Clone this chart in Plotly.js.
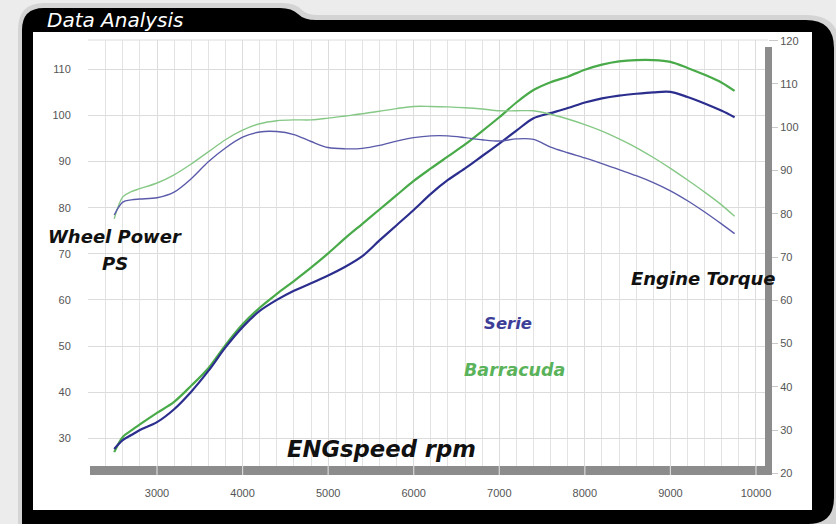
<!DOCTYPE html>
<html><head><meta charset="utf-8">
<script src="https://cdn.plot.ly/plotly-3.0.1.min.js"></script>
<style>html,body{margin:0;padding:0;background:#ececec}#chart{width:836px;height:524px}</style>
</head><body><div id="chart"></div>
<script>
// ---- data ----
const rpm = [2500,2600,2700,2800,3000,3200,3400,3600,3800,4000,4200,4400,4600,4800,5000,5200,5400,5600,5800,6000,6200,6400,6600,6800,7000,7200,7400,7600,7800,8000,8200,8400,8600,8800,9000,9200,9400,9600,9750];
const powerSerie = [27.7,29.6,30.7,31.8,33.5,36.3,40.1,44.6,49.7,54.1,57.6,60.0,62.0,63.6,65.3,67.2,69.5,72.9,76.2,79.5,83.0,86.0,88.5,91.2,93.9,96.7,99.4,100.5,101.6,102.8,103.7,104.3,104.7,105.0,105.1,104.0,102.6,101.0,99.6];
const powerBarracuda = [27.0,30.3,31.7,33.0,35.5,37.9,41.4,45.2,50.2,54.7,58.3,61.3,64.1,67.0,70.1,73.4,76.5,79.6,82.7,85.8,88.5,91.1,93.7,96.6,99.6,102.8,105.5,107.2,108.4,109.9,111.0,111.7,112.0,112.0,111.6,110.3,108.8,107.1,105.3];
const torqueSerie = [79.7,82.7,83.2,83.4,83.7,85.0,88.1,92.0,95.2,97.7,98.9,99.0,98.3,96.7,95.3,95.0,95.1,95.8,96.8,97.6,98.0,98.0,97.6,97.1,96.8,97.3,97.2,95.4,94.1,92.9,91.6,90.2,88.8,87.2,85.3,83.0,80.4,77.6,75.4];
const torqueBarracuda = [78.8,83.9,85.1,85.8,87.1,89.0,91.5,94.3,97.1,99.3,100.8,101.5,101.7,101.7,102.1,102.6,103.1,103.7,104.3,104.8,104.8,104.7,104.5,104.2,103.8,103.8,103.8,103.0,101.9,100.6,99.1,97.3,95.3,93.0,90.5,87.8,85.0,82.0,79.4];
const xTicks = [3000,4000,5000,6000,7000,8000,9000,10000];
const leftTicks = [30,40,50,60,70,80,90,100,110];
const rightTicks = [20,30,40,50,60,70,80,90,100,110,120];

// ---- layout helpers (pixel -> paper) ----
const L=88, R=768, T=40, B=474;
const fx = p => (p-L)/(R-L);
const fy = p => (B-p)/(B-T);
const P = (x,y) => fx(x)+','+fy(y);

const framePath = 'M'+P(22,530)+' L'+P(22,30)+' Q'+P(22,8)+' '+P(44,8)+' L'+P(280,8)+' Q'+P(292,8)+' '+P(298,14)+' Q'+P(304,20)+' '+P(316,20)+' L'+P(806,20)+' Q'+P(834,20)+' '+P(834,48)+' L'+P(834,498)+' Q'+P(834,524)+' '+P(808,524)+' L'+P(22,530)+' Z';
const shadowPath = 'M'+P(18,530)+' L'+P(18,30)+' Q'+P(18,3)+' '+P(44,3)+' L'+P(282,3)+' Q'+P(296,3)+' '+P(302,10)+' Q'+P(307,15)+' '+P(318,15)+' L'+P(806,15)+' Q'+P(840,15)+' '+P(840,48)+' L'+P(840,530)+' Z';

const shapes = [
  {type:'path', xref:'paper', yref:'paper', path:shadowPath, fillcolor:'rgba(0,0,0,0.10)', line:{width:0}, layer:'below'},
  {type:'path', xref:'paper', yref:'paper', path:framePath, fillcolor:'#000', line:{width:0}, layer:'below'},
  {type:'rect', xref:'paper', yref:'paper', x0:fx(33), x1:fx(812), y0:fy(510), y1:fy(32), fillcolor:'#fff', line:{width:0}, layer:'below'},
  {type:'line', xref:'paper', yref:'paper', x0:0, x1:1, y0:1, y1:1, line:{color:'#dcdcdc', width:1}, layer:'below'},
  // grey axis bars
  {type:'rect', xref:'paper', yref:'paper', x0:fx(90), x1:fx(771), y0:fy(475), y1:fy(466), fillcolor:'#8c8c8c', line:{width:0}, layer:'above'},
  {type:'rect', xref:'paper', yref:'paper', x0:fx(765), x1:fx(772), y0:fy(475), y1:fy(47), fillcolor:'#8c8c8c', line:{width:0}, layer:'above'}
];
xTicks.forEach(v => shapes.push({type:'line', xref:'x', yref:'paper', x0:v, x1:v, y0:fy(475), y1:fy(466), line:{color:'#d8d8d8', width:1.2}, layer:'above'}));

const tickFont = {family:'Liberation Sans, Arial, sans-serif', size:11, color:'#555'};
const labFont = (size,color) => ({family:'DejaVu Sans, sans-serif', size:size, color:color});

const traces = [
  {x:rpm, y:torqueBarracuda, yaxis:'y2', mode:'lines', line:{color:'#86c886', width:1.4, shape:'spline', smoothing:0.9}, name:'Barracuda torque'},
  {x:rpm, y:torqueSerie, yaxis:'y2', mode:'lines', line:{color:'#5a5aaa', width:1.4, shape:'spline', smoothing:0.9}, name:'Serie torque'},
  {x:rpm, y:powerBarracuda, yaxis:'y', mode:'lines', line:{color:'#48aa48', width:2.2, shape:'spline', smoothing:0.9}, name:'Barracuda power'},
  {x:rpm, y:powerSerie, yaxis:'y', mode:'lines', line:{color:'#2c2e8e', width:2.2, shape:'spline', smoothing:0.9}, name:'Serie power'}
];

const layout = {
  width:836, height:524,
  margin:{l:L, r:836-R, t:T, b:524-B, pad:0},
  paper_bgcolor:'#ececec', plot_bgcolor:'rgba(0,0,0,0)',
  showlegend:false,
  title:{text:'<i>Data Analysis</i>', font:labFont(20,'#fff'), xref:'container', yref:'container', x:47/836, xanchor:'left', y:1-20/524, yanchor:'middle'},
  xaxis:{range:[2193.7,10140.3], tickmode:'array', tickvals:xTicks, ticktext:xTicks.map(String),
    ticks:'outside', ticklen:9, tickcolor:'rgba(0,0,0,0)', tickfont:tickFont,
    showgrid:true, gridcolor:'#dcdcdc', gridwidth:1, zeroline:false, showline:false,
    minor:{dtick:200, tick0:0, showgrid:true, gridcolor:'#e3e3e3', gridwidth:1, ticks:''}},
  yaxis:{range:[22.26,116.35], tickmode:'array', tickvals:leftTicks, ticktext:leftTicks.map(String),
    ticks:'outside', ticklen:14, tickcolor:'rgba(0,0,0,0)', tickfont:tickFont,
    showgrid:true, gridcolor:'#dcdcdc', zeroline:false, showline:false},
  yaxis2:{range:[19.84,120.16], overlaying:'y', side:'right', tickmode:'array', tickvals:rightTicks, ticktext:rightTicks.map(String),
    ticks:'outside', ticklen:9, tickcolor:'#c8c8c8', tickfont:tickFont,
    showgrid:false, zeroline:false, showline:false},
  shapes:shapes,
  annotations:[
    {text:'<b><i>Wheel Power</i></b>', xref:'paper', yref:'paper', x:fx(115), y:fy(236), showarrow:false, font:labFont(18,'#111'), xanchor:'center', yanchor:'middle'},
    {text:'<b><i>PS</i></b>', xref:'paper', yref:'paper', x:fx(115), y:fy(263), showarrow:false, font:labFont(18,'#111'), xanchor:'center', yanchor:'middle'},
    {text:'<b><i>Engine Torque</i></b>', xref:'paper', yref:'paper', x:fx(703), y:fy(278), showarrow:false, font:labFont(18,'#111'), xanchor:'center', yanchor:'middle'},
    {text:'<b><i>ENGspeed rpm</i></b>', xref:'paper', yref:'paper', x:fx(381), y:fy(449), showarrow:false, font:labFont(22.7,'#111'), xanchor:'center', yanchor:'middle'},
    {text:'<b><i>Serie</i></b>', xref:'paper', yref:'paper', x:fx(508), y:fy(323), showarrow:false, font:labFont(16.5,'#3c3e98'), xanchor:'center', yanchor:'middle'},
    {text:'<b><i>Barracuda</i></b>', xref:'paper', yref:'paper', x:fx(514), y:fy(370), showarrow:false, font:labFont(17.5,'#5ab35a'), xanchor:'center', yanchor:'middle'}
  ]
};

Plotly.newPlot('chart', traces, layout, {staticPlot:true, displayModeBar:false});
</script>
</body></html>
